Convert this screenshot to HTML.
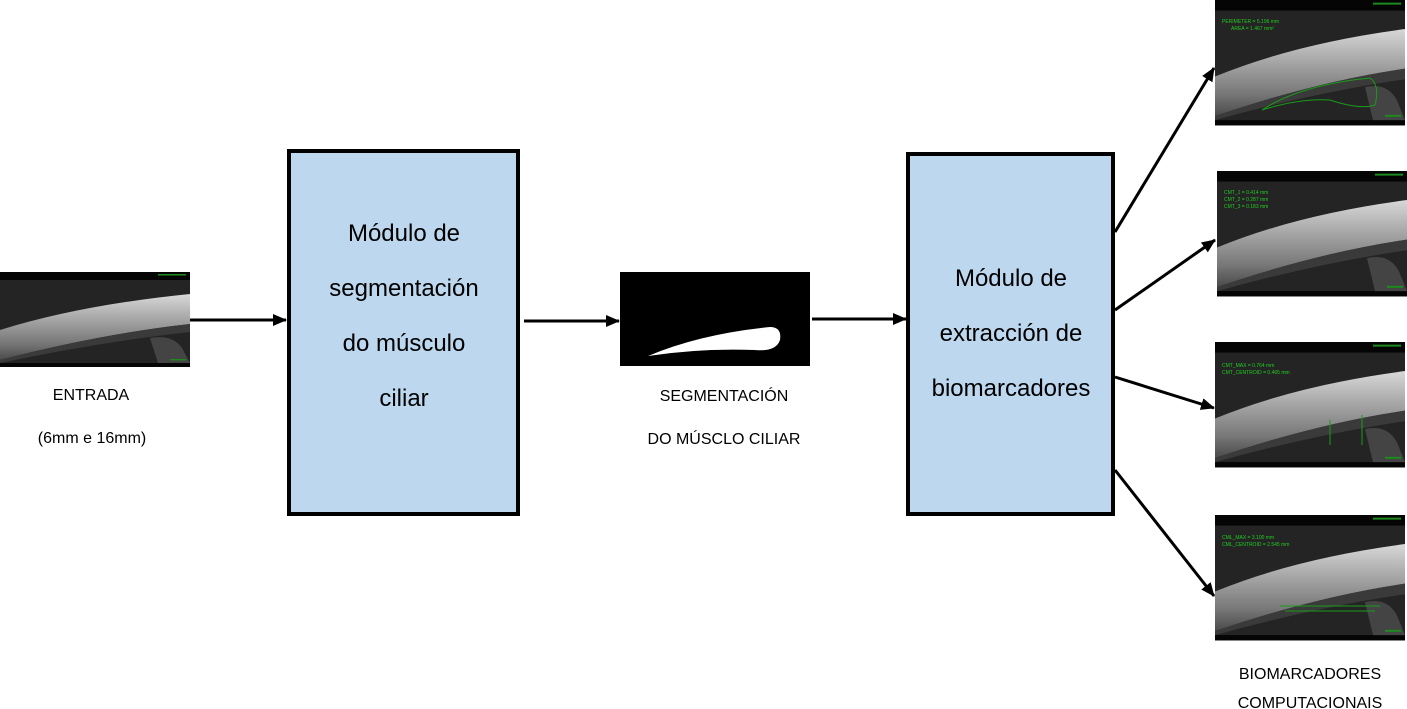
<!DOCTYPE html>
<html><head><meta charset="utf-8"><style>
body{margin:0;background:#fff;width:1407px;height:709px;overflow:hidden}
svg{display:block}
text{font-family:"Liberation Sans",sans-serif}
</style></head><body>
<svg width="1407" height="709" viewBox="0 0 1407 709" xmlns="http://www.w3.org/2000/svg">
<defs>
<linearGradient id="band" x1="0" y1="0" x2="0" y2="1">
<stop offset="0" stop-color="#d8d8d8"/><stop offset="0.3" stop-color="#b0b0b0"/><stop offset="0.75" stop-color="#777"/><stop offset="1" stop-color="#4a4a4a"/>
</linearGradient>
<marker id="ah" markerWidth="14" markerHeight="14" refX="13" refY="7" orient="auto" markerUnits="userSpaceOnUse" viewBox="0 0 14 14">
<path d="M0,1 L14,7 L0,13 z" fill="#000"/></marker>
<g id="oct">
<rect x="0" y="0" width="190" height="95" fill="#242424"/>
<rect x="0" y="0" width="190" height="8" fill="#050505"/>
<rect x="0" y="91" width="190" height="4" fill="#050505"/>
<path d="M0,58 Q80,33 190,22 L190,52 Q100,62 0,88 z" fill="url(#band)"/>
<path d="M0,88 Q100,62 190,52 L190,60 Q100,70 0,91 z" fill="#3a3a3a"/>
<path d="M150,66 Q172,62 182,76 L190,91 L158,91 z" fill="#444"/>
<rect x="158" y="2" width="28" height="1.5" fill="#1c8a1c"/>
<rect x="170" y="87" width="16" height="1.5" fill="#1c8a1c"/>
</g>
</defs>

<use href="#oct" x="0" y="272"/>
<text x="91" y="400" font-size="16" text-anchor="middle">ENTRADA</text>
<text x="92" y="443" font-size="16" text-anchor="middle">(6mm e 16mm)</text>

<line x1="190" y1="320" x2="286" y2="320" stroke="#000" stroke-width="3" marker-end="url(#ah)"/>

<rect x="289" y="151" width="229" height="363" fill="#bdd7ee" stroke="#000" stroke-width="4"/>
<g font-size="24" text-anchor="middle">
<text x="404" y="241">Módulo de</text>
<text x="404" y="296">segmentación</text>
<text x="404" y="351">do músculo</text>
<text x="404" y="406">ciliar</text>
</g>

<line x1="524" y1="321" x2="619" y2="321" stroke="#000" stroke-width="3" marker-end="url(#ah)"/>

<rect x="620" y="272" width="190" height="94" fill="#000"/>
<path d="M648,356 Q700,334 770,327 Q782,327 780,340 Q776,352 755,350 Q700,348 648,356 z" fill="#fff"/>
<text x="724" y="401" font-size="16" text-anchor="middle">SEGMENTACIÓN</text>
<text x="724" y="444" font-size="16" text-anchor="middle">DO MÚSCLO CILIAR</text>

<line x1="812" y1="319" x2="906" y2="319" stroke="#000" stroke-width="3" marker-end="url(#ah)"/>

<rect x="908" y="154" width="205" height="360" fill="#bdd7ee" stroke="#000" stroke-width="4"/>
<g font-size="24" text-anchor="middle">
<text x="1011" y="286">Módulo de</text>
<text x="1011" y="341">extracción de</text>
<text x="1011" y="396">biomarcadores</text>
</g>

<line x1="1115" y1="232" x2="1214" y2="68" stroke="#000" stroke-width="3" marker-end="url(#ah)"/>
<line x1="1115" y1="310" x2="1215" y2="240" stroke="#000" stroke-width="3" marker-end="url(#ah)"/>
<line x1="1115" y1="377" x2="1214" y2="408" stroke="#000" stroke-width="3" marker-end="url(#ah)"/>
<line x1="1115" y1="470" x2="1214" y2="596" stroke="#000" stroke-width="3" marker-end="url(#ah)"/>

<g transform="translate(1215,0) scale(1,1.32)"><use href="#oct"/></g>
<path d="M1262,110 Q1300,85 1370,78 Q1380,85 1375,105 Q1360,110 1330,100 Q1300,98 1262,110z" fill="none" stroke="#1a9a1a" stroke-width="1"/>
<text x="1222" y="23" font-size="5" fill="#2c2">PERIMETER = 5.196 mm</text>
<text x="1231" y="30" font-size="5" fill="#2c2">AREA = 1.467 mm²</text>

<g transform="translate(1217,171) scale(1,1.32)"><use href="#oct"/></g>
<text x="1224" y="194" font-size="5" fill="#2c2">CMT_1 = 0.414 mm</text>
<text x="1224" y="201" font-size="5" fill="#2c2">CMT_2 = 0.287 mm</text>
<text x="1224" y="208" font-size="5" fill="#2c2">CMT_3 = 0.183 mm</text>

<g transform="translate(1215,342) scale(1,1.32)"><use href="#oct"/></g>
<text x="1222" y="367" font-size="5" fill="#2c2">CMT_MAX = 0.764 mm</text>
<text x="1222" y="374" font-size="5" fill="#2c2">CMT_CENTROID = 0.465 mm</text>
<line x1="1330" y1="420" x2="1330" y2="445" stroke="#1a9a1a"/>
<line x1="1362" y1="415" x2="1362" y2="445" stroke="#1a9a1a"/>

<g transform="translate(1215,515) scale(1,1.32)"><use href="#oct"/></g>
<text x="1222" y="539" font-size="5" fill="#2c2">CML_MAX = 3.100 mm</text>
<text x="1222" y="546" font-size="5" fill="#2c2">CML_CENTROID = 2.545 mm</text>
<line x1="1280" y1="606" x2="1380" y2="606" stroke="#1a9a1a"/>
<line x1="1285" y1="611" x2="1375" y2="611" stroke="#1a9a1a"/>

<text x="1310" y="679" font-size="16" text-anchor="middle">BIOMARCADORES</text>
<text x="1310" y="708" font-size="16" text-anchor="middle">COMPUTACIONAIS</text>
</svg>
</body></html>
